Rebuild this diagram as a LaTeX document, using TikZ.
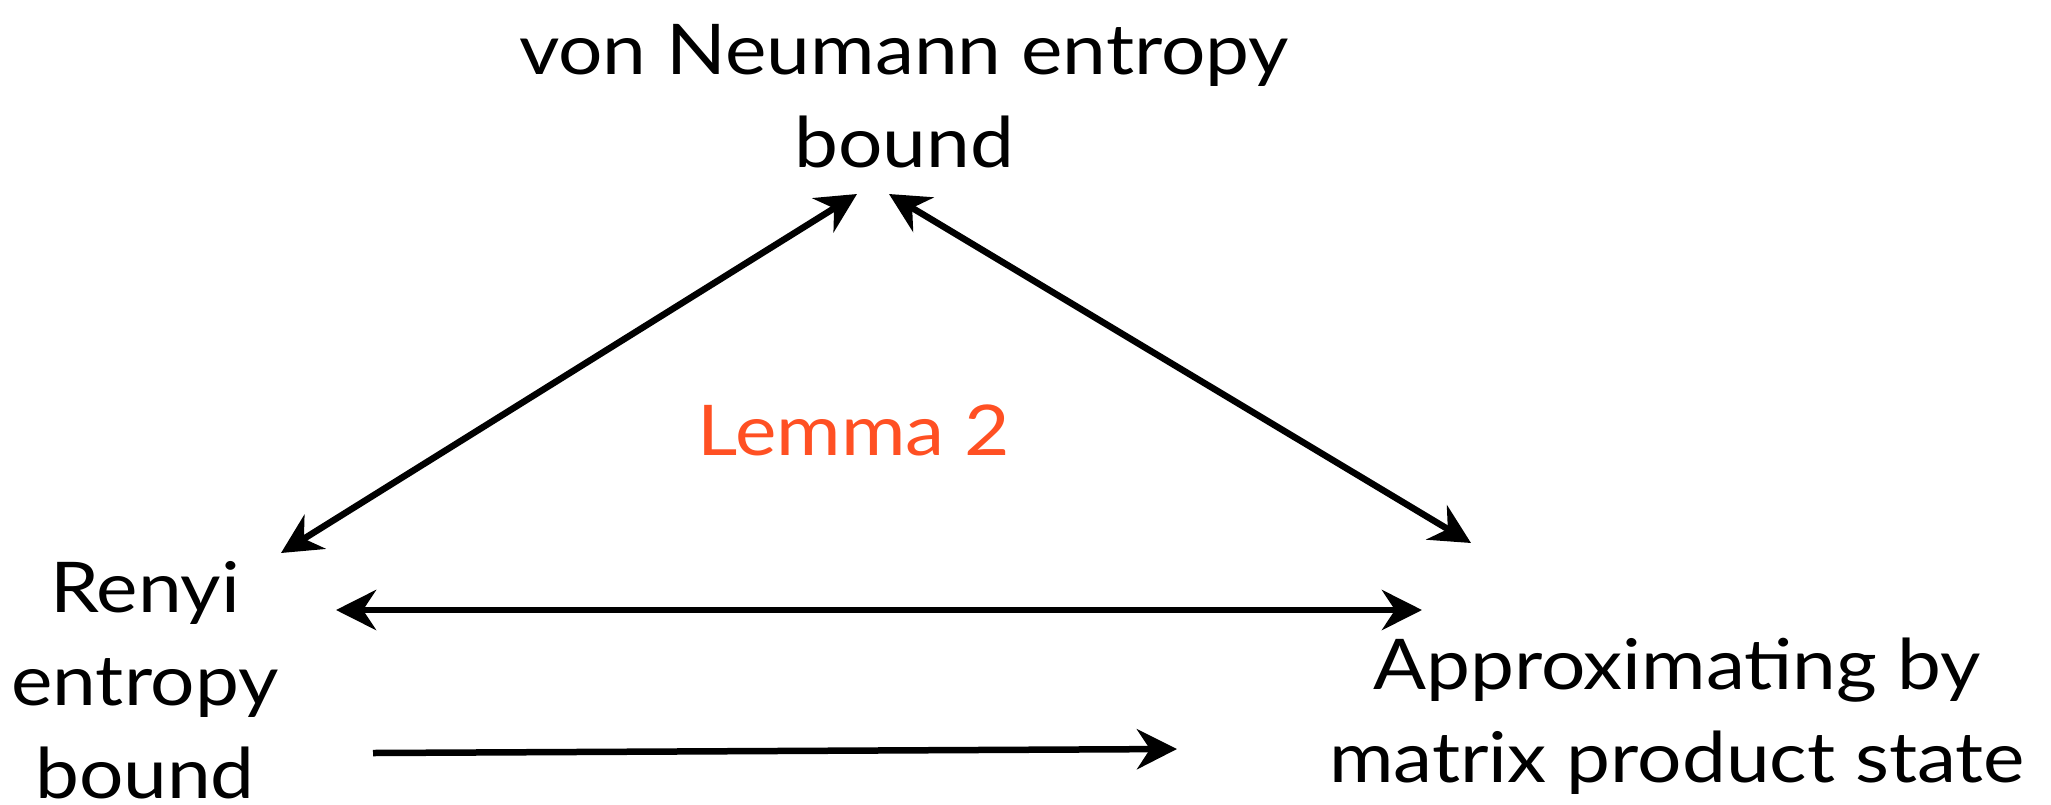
\documentclass[tikz,border=0pt]{standalone}
\usepackage{fontspec}
\setmainfont{Lato}[FakeStretch=1.12]
\usetikzlibrary{arrows.meta}
\definecolor{lemmared}{RGB}{255,80,35}
\begin{document}
\begin{tikzpicture}[x=1pt,y=-1pt,
  lbl/.style={align=center,font=\fontsize{70}{93}\selectfont,inner sep=0pt,anchor=base},
  conn/.style={line width=6.5pt,-{Stealth[length=40pt,width=40pt,inset=13pt]}},
  dconn/.style={line width=6.5pt,{Stealth[length=40pt,width=40pt,inset=13pt]}-{Stealth[length=40pt,width=40pt,inset=13pt]}}]
\useasboundingbox (0,0) rectangle (2051,804);
\node[lbl] (vn) at (904,167) {von Neumann entropy\\bound};
\node[lbl] (renyi) at (145,798) {Renyi\\entropy\\bound};
\node[lbl] (mps) at (1677,782) {Approximating by\\matrix product state};
\node[lbl,text=lemmared] (lemma) at (854,455) {Lemma 2};
\coordinate (vnL) at (857,194);
\coordinate (vnR) at (889,194);
\coordinate (reD) at (281,553);
\coordinate (reH) at (336,610);
\coordinate (reB) at (373,753);
\coordinate (mpD) at (1471,543);
\coordinate (mpH) at (1422,610);
\coordinate (mpB) at (1177,749);
\draw[dconn] (vnL) -- (reD);
\draw[dconn] (vnR) -- (mpD);
\draw[dconn] (reH) -- (mpH);
\draw[conn] (reB) -- (mpB);
\end{tikzpicture}
\end{document}
